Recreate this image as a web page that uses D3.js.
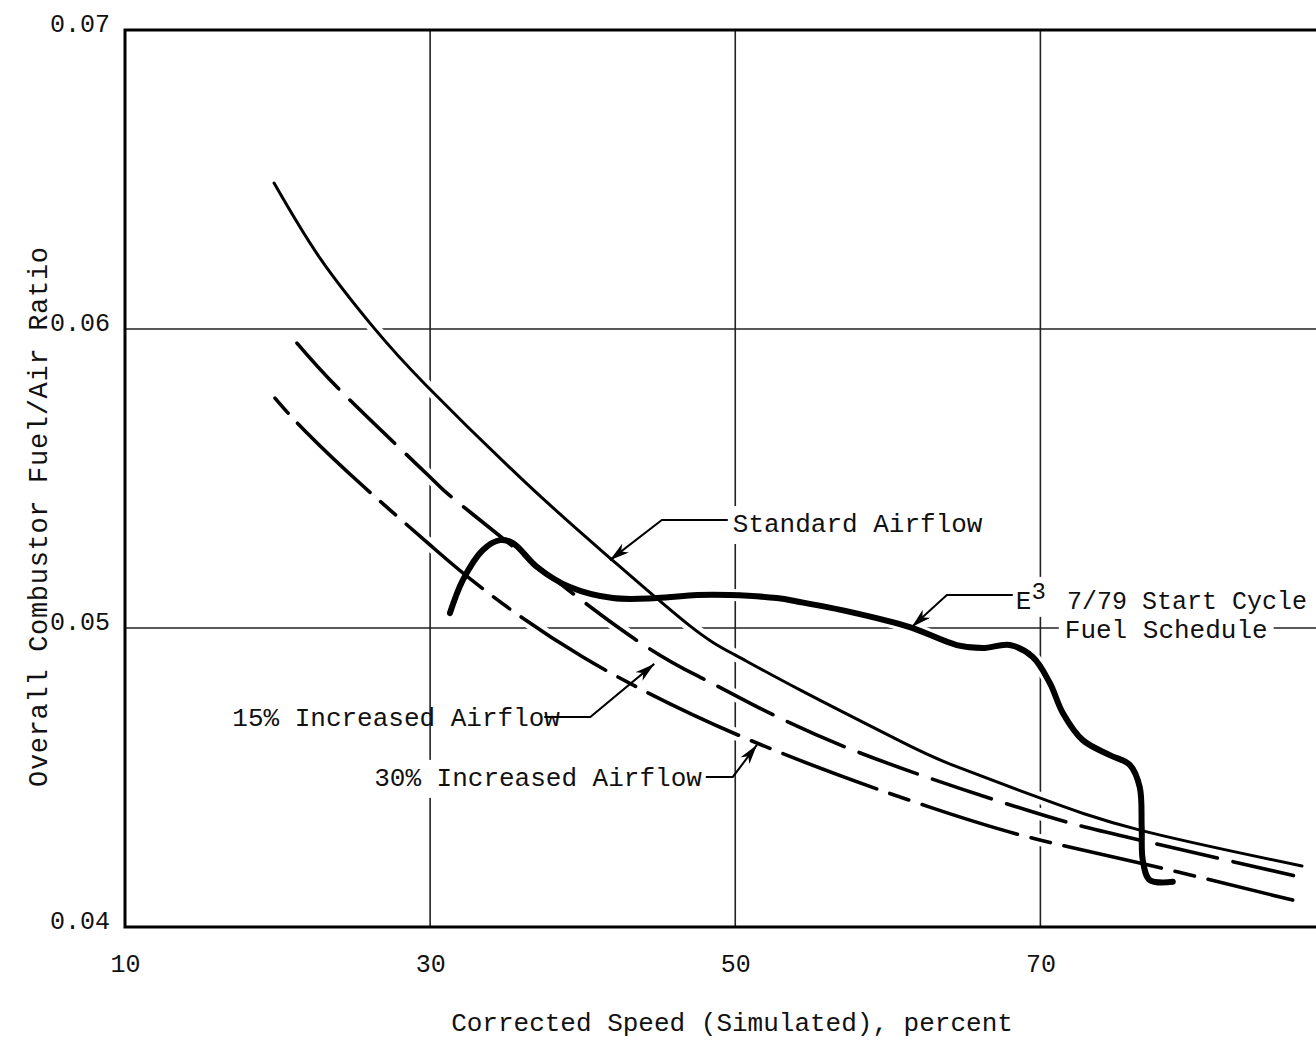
<!DOCTYPE html>
<html><head><meta charset="utf-8">
<script src="https://cdn.jsdelivr.net/npm/d3@7"></script>
<style>
body{margin:0;background:#fff}
svg{display:block}
text{font-family:"Liberation Mono","DejaVu Sans Mono",monospace;fill:#111}
</style>
</head><body>
<svg id="c" width="1316" height="1041"></svg>
<script>
// ---- data ----
const xTicks = [10, 30, 50, 70];
const yTicks = [0.04, 0.05, 0.06, 0.07];
const xGrid = [30, 50, 70];
const yGrid = [0.05, 0.06];

const standardX = [19.77, 22.78, 26.26, 29.73, 36.35, 41.79, 47.03, 49.98, 54.24, 60.80, 64.08, 69.78, 76.53, 87.15];
const standardY = [0.06488, 0.06237, 0.06007, 0.05812, 0.05482, 0.05234, 0.05007, 0.04910, 0.04793, 0.04622, 0.04545, 0.04435, 0.04324, 0.04204];

const inc15X = [21.27, 24.61, 29.99, 32.61, 42.11, 47.68, 50.96, 58.2, 69.1, 75.66, 87.0];
const inc15Y = [0.05953, 0.05769, 0.05505, 0.05388, 0.05010, 0.04836, 0.04749, 0.04582, 0.04391, 0.04301, 0.04167];

const inc30X = [19.83, 21.80, 25.6, 29.99, 33.13, 40.01, 50.96, 62.75, 69.96, 76.51, 86.54];
const inc30Y = [0.05769, 0.05659, 0.05475, 0.05278, 0.05144, 0.04903, 0.04625, 0.04401, 0.04291, 0.04214, 0.04090];

const e3X = [31.30, 32.15, 33.46, 34.57, 35.43, 37.00, 39.16, 41.98, 44.86, 47.48, 49.65, 52.73, 54.23, 57.51, 61.44, 64.52, 66.22, 67.99, 69.50, 70.62, 71.47, 72.78, 74.55, 75.86, 76.51, 76.64, 76.71, 77.17, 78.68];
const e3Y = [0.05050, 0.05161, 0.05261, 0.05294, 0.05284, 0.05204, 0.05137, 0.05100, 0.05100, 0.05110, 0.05110, 0.05100, 0.05087, 0.05054, 0.05003, 0.04943, 0.04933, 0.04943, 0.04903, 0.04816, 0.04716, 0.04625, 0.04575, 0.04542, 0.04468, 0.04334, 0.04224, 0.04157, 0.04151];

// ---- scales ----
const svg = d3.select("#c");
const x = d3.scaleLinear().domain([10, 88]).range([125, 1315]);
const y = d3.scaleLinear().domain([0.04, 0.07]).range([927, 30]);

// ---- gridlines ----
const grid = svg.append("g").attr("stroke", "#222").attr("stroke-width", 1.6);
grid.selectAll("line.v").data(xGrid).join("line")
  .attr("x1", d => x(d)).attr("x2", d => x(d))
  .attr("y1", y(0.07)).attr("y2", y(0.04));
grid.selectAll("line.h").data(yGrid).join("line")
  .attr("x1", x(10)).attr("x2", 1316)
  .attr("y1", d => y(d)).attr("y2", d => y(d));

// ---- curves ----
const series = [
  {xs: standardX, ys: standardY, w: 3, dash: null, curve: d3.curveNatural},
  {xs: inc15X, ys: inc15Y, w: 3.6, dash: "62,16", curve: d3.curveNatural},
  {xs: inc30X, ys: inc30Y, w: 3.6, dash: "20,14,100,14", curve: d3.curveNatural},
  {xs: e3X, ys: e3Y, w: 6, dash: null, curve: d3.curveCatmullRom.alpha(0.5)}
];
series.forEach(s => {
  s.pts = s.xs.map((v, i) => [v, s.ys[i]]);
  s.d = d3.line().x(d => x(d[0])).y(d => y(d[1])).curve(s.curve)(s.pts);
});

svg.append("g").selectAll("path").data(series).join("path")
  .attr("d", s => s.d).attr("fill", "none")
  .attr("stroke", "#fff").attr("stroke-width", 12);

svg.append("g").selectAll("path").data(series).join("path")
  .attr("d", s => s.d).attr("fill", "none")
  .attr("stroke", "#000").attr("stroke-width", s => s.w)
  .attr("stroke-linecap", "round").attr("stroke-linejoin", "round")
  .attr("stroke-dasharray", s => s.dash);

// ---- annotations ----
const defs = svg.append("defs");
defs.append("marker").attr("id", "arr").attr("markerUnits", "userSpaceOnUse")
  .attr("viewBox", "0 -5 18 10").attr("refX", 18).attr("refY", 0)
  .attr("markerWidth", 20).attr("markerHeight", 11).attr("orient", "auto")
  .append("path").attr("d", "M0,-5L18,0L0,5L5,0Z").attr("fill", "#000");

const labels = [
  {text: "Standard Airflow", tx: 49.84, ty: 0.05321, anchor: "start", bg: true,
   leader: [[49.51, 0.05361], [45.19, 0.05361], [41.78, 0.05227]]},
  {text: "15% Increased Airflow", tx: 38.51, ty: 0.04672, anchor: "end", bg: false,
   leader: [[37.48, 0.04702], [40.50, 0.04702], [44.69, 0.04880]]},
  {text: "30% Increased Airflow", tx: 47.81, ty: 0.04472, anchor: "end", bg: true,
   leader: [[48.07, 0.04502], [49.84, 0.04502], [51.42, 0.04609]]},
  {text: "Fuel Schedule", tx: 71.6, ty: 0.04967, anchor: "start", bg: true, leader: null}
];
const lineRaw = d3.line().x(d => x(d[0])).y(d => y(d[1]));
const ann = svg.append("g");
labels.forEach(l => {
  const g = ann.append("g");
  const t = g.append("text").attr("x", x(l.tx)).attr("y", y(l.ty))
    .attr("text-anchor", l.anchor).attr("font-size", 26).text(l.text);
  if (l.bg) {
    const b = t.node().getBBox();
    g.insert("rect", "text").attr("x", b.x - 6).attr("y", b.y - 4)
      .attr("width", b.width + 12).attr("height", b.height + 8).attr("fill", "#fff");
  }
  if (l.leader) {
    ann.append("path").attr("d", lineRaw(l.leader)).attr("fill", "none")
      .attr("stroke", "#000").attr("stroke-width", 2).attr("marker-end", "url(#arr)");
  }
});

// E3 label with superscript
{
  const g = ann.append("g");
  const t = g.append("text").attr("x", x(68.39)).attr("y", y(0.05064)).attr("font-size", 26);
  t.append("tspan").text("E");
  t.append("tspan").attr("dy", -10).attr("font-size", 24).text("3");
  t.append("tspan").attr("dy", 10).attr("x", x(71.75)).attr("font-size", 25).text("7/79 Start Cycle");
  const b = t.node().getBBox();
  g.insert("rect", "text").attr("x", b.x - 6).attr("y", b.y - 2)
    .attr("width", b.width + 12).attr("height", b.height + 2).attr("fill", "#fff");
  ann.append("path").attr("d", lineRaw([[68.19, 0.05110], [63.87, 0.05110], [61.57, 0.05003]]))
    .attr("fill", "none").attr("stroke", "#000").attr("stroke-width", 2).attr("marker-end", "url(#arr)");
}

// ---- frame ----
const frame = svg.append("g").attr("stroke", "#000").attr("stroke-width", 3).attr("fill", "none");
frame.append("path").attr("d", `M1316,${y(0.07)}H${x(10)}V${y(0.04)}H1316`);

// ---- axes labels ----
const xAxis = d3.axisBottom(x).tickValues(xTicks).tickSize(0).tickPadding(27).tickFormat(d3.format("d"));
const gx = svg.append("g").attr("transform", `translate(0,${y(0.04)})`).call(xAxis);
gx.select(".domain").remove();
gx.selectAll("text").attr("font-size", 25).attr("fill", "#111")
  .attr("font-family", '"Liberation Mono","DejaVu Sans Mono",monospace');

const yAxis = d3.axisLeft(y).tickValues(yTicks).tickSize(0).tickPadding(15).tickFormat(d3.format(".2f"));
const gy = svg.append("g").attr("transform", `translate(${x(10)},0)`).call(yAxis);
gy.select(".domain").remove();
gy.selectAll("text").attr("font-size", 25).attr("dy", "0.04em").attr("fill", "#111")
  .attr("font-family", '"Liberation Mono","DejaVu Sans Mono",monospace');

svg.append("text").attr("x", 732).attr("y", 1031).attr("text-anchor", "middle")
  .attr("font-size", 26).text("Corrected Speed (Simulated), percent");

svg.append("text").attr("transform", "translate(47,517) rotate(-90)")
  .attr("text-anchor", "middle").attr("font-size", 27)
  .attr("textLength", 540).attr("lengthAdjust", "spacing")
  .text("Overall Combustor Fuel/Air Ratio");
</script>
</body></html>
